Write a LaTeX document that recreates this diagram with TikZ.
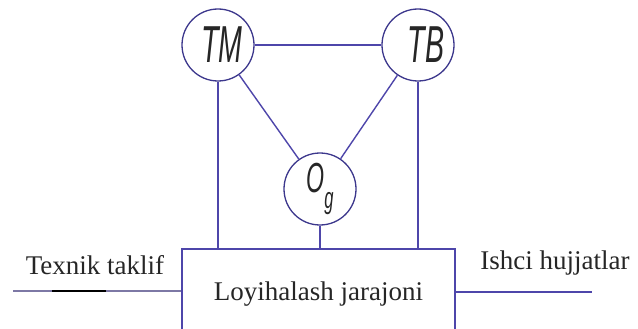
\documentclass[tikz,border=0pt]{standalone}
\usepackage{fontspec}
\setmainfont{Liberation Serif}
\newfontfamily\gostfont[FakeStretch=0.55]{Liberation Sans}
\usepackage{xcolor}
\usepackage{tikz}
\usetikzlibrary{positioning}

\definecolor{linkblue}{RGB}{78,70,170}
\definecolor{ringblue}{RGB}{60,55,140}
\definecolor{feedgrey}{RGB}{125,120,165}

\begin{document}
\begin{tikzpicture}[
        x=1pt, y=-1pt,
        ring/.style={circle, draw=ringblue, line width=1.3pt, minimum size=72pt, inner sep=0pt, font=\gostfont\itshape\fontsize{52}{52}\selectfont, text=black!85},
        procbox/.style={rectangle, draw=linkblue, line width=1.4pt, minimum width=273pt, minimum height=90pt, font=\fontsize{27}{30}\selectfont, text=black!85},
        flowtext/.style={font=\fontsize{27}{30}\selectfont, text=black!85},
        link/.style={draw=linkblue, line width=1.4pt}
    ]
    \useasboundingbox (0,0) rectangle (638,329);
    \clip (0,0) rectangle (638,329);

    \node[ring] (tm) at (218,45) {\hspace{8pt}TM};
    \node[ring] (tb) at (418,45) {\hspace{16pt}TB};
    \node[ring] (og) at (320,189) {\fontsize{42}{42}\selectfont O\raisebox{-16pt}{\fontsize{30}{30}\selectfont g}};
    \node[procbox] (proc) at (318.5,294) {Loyihalash jarajoni};

    \coordinate (tl) at (13,291);
    \coordinate (ih) at (592,292);
    \node[flowtext] (tl-label) at (95,265) {Texnik taklif};
    \node[flowtext] (ih-label) at (555,263) {Ishci hujjatlar};

    \draw[link] (tm) -- (tb);
    \draw[link] (tm) -- (og);
    \draw[link] (tb) -- (og);
    \draw[link] (tm.south) -- (tm.south |- proc.north);
    \draw[link] (tb.south) -- (tb.south |- proc.north);
    \draw[link] (og.south) -- (og.south |- proc.north);

    \draw[link, draw=feedgrey] (tl) -- (tl -| proc.west);
    \draw[black, line width=2.6pt] (52,291) -- (106,291);
    \draw[link] (ih -| proc.east) -- (ih);
\end{tikzpicture}
\end{document}
